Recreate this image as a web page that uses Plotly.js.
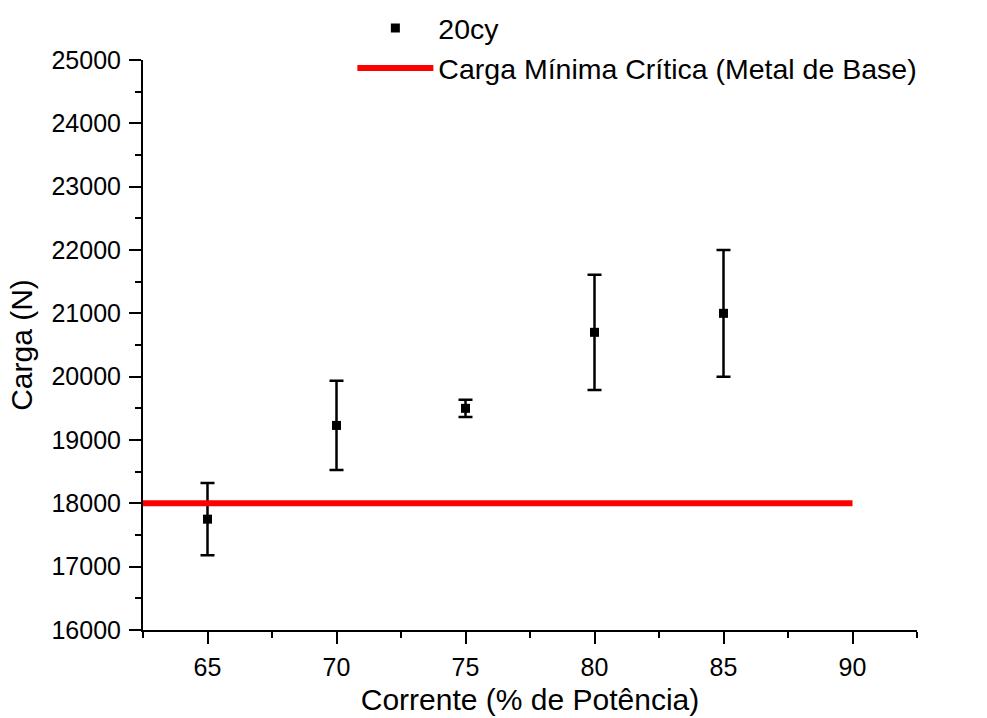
<!DOCTYPE html>
<html>
<head>
<meta charset="utf-8">
<script src="https://cdn.plot.ly/plotly-3.0.1.min.js"></script>
<style>html,body{margin:0;padding:0;background:#fff;}#chart{width:987px;height:718px;}</style>
</head>
<body>
<div id="chart"></div>
<script>
// Data
const corrente = [65, 70, 75, 80, 85];
const carga = [17750, 19230, 19500, 20700, 21000];
const cargaErro = [570, 705, 135, 910, 1000];
const criticaX = [62.5, 90];
const criticaY = [18000, 18000];
const serieNome = '20cy';
const criticaNome = 'Carga Mínima Crítica (Metal de Base)';

const FONT = '"Liberation Sans", Arial, sans-serif';

const traces = [
  {
    x: corrente, y: carga, name: serieNome,
    type: 'scatter', mode: 'markers',
    marker: {symbol: 'square', size: 9, color: '#000'},
    error_y: {type: 'data', array: cargaErro, visible: true, color: '#000', thickness: 2.5, width: 7}
  },
  {
    x: criticaX, y: criticaY, name: criticaNome,
    type: 'scatter', mode: 'lines',
    line: {color: 'rgb(255,0,0)', width: 6}
  }
];

const layout = {
  width: 987, height: 718,
  margin: {l: 143, r: 70, t: 60, b: 88, autoexpand: false},
  paper_bgcolor: '#fff', plot_bgcolor: '#fff',
  font: {family: FONT, color: '#000'},
  showlegend: true,
  legend: {
    x: 0.2705, y: 1.1, xanchor: 'left', yanchor: 'top',
    font: {family: FONT, size: 28.5, color: '#000'},
    bgcolor: 'rgba(0,0,0,0)', itemwidth: 76, tracegroupgap: 0
  },
  xaxis: {
    range: [62.5, 92.5], tick0: 65, dtick: 5,
    showline: true, linecolor: '#000', linewidth: 2,
    ticks: 'outside', ticklen: 12, tickwidth: 2, tickcolor: '#000',
    ticklabelstandoff: 2,
    tickfont: {family: FONT, size: 25, color: '#000'},
    minor: {dtick: 2.5, tick0: 62.5, ticks: 'outside', ticklen: 6, tickwidth: 2, tickcolor: '#000'},
    showgrid: false, zeroline: false,
    title: {text: 'Corrente (% de Potência)', font: {family: FONT, size: 30, color: '#000'}, standoff: 9}
  },
  yaxis: {
    range: [16000, 25000], tick0: 16000, dtick: 1000, tickformat: 'd',
    showline: true, linecolor: '#000', linewidth: 2,
    ticks: 'outside', ticklen: 12, tickwidth: 2, tickcolor: '#000',
    ticklabelstandoff: 3,
    tickfont: {family: FONT, size: 25, color: '#000'},
    minor: {dtick: 500, ticks: 'outside', ticklen: 6, tickwidth: 2, tickcolor: '#000'},
    showgrid: false, zeroline: false,
    title: {text: 'Carga (N)', font: {family: FONT, size: 30, color: '#000'}, standoff: 10}
  }
};

Plotly.newPlot('chart', traces, layout, {displayModeBar: false, staticPlot: true});
</script>
</body>
</html>
